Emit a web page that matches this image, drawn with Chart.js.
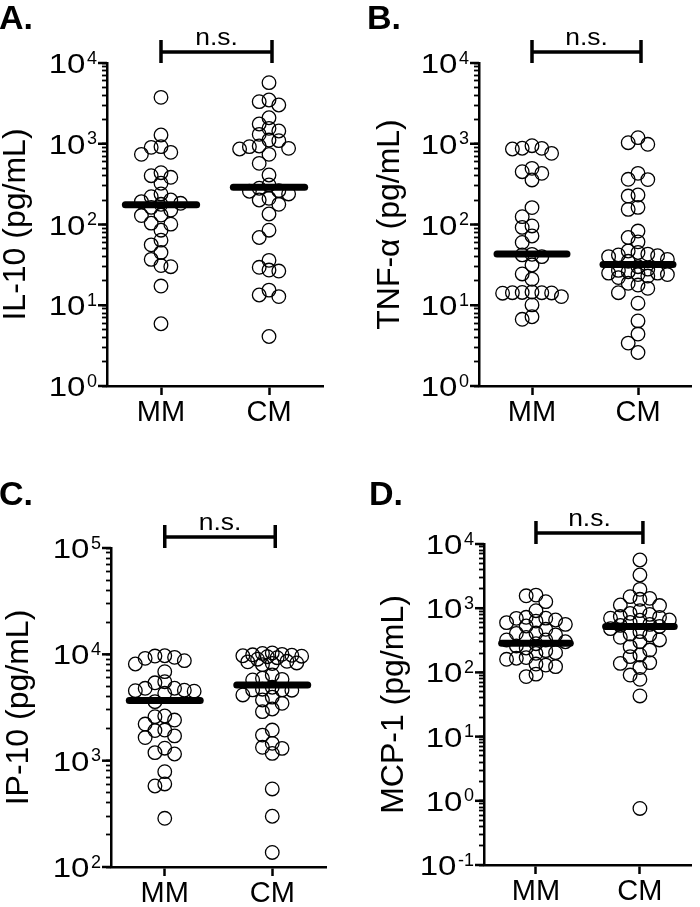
<!DOCTYPE html>
<html><head><meta charset="utf-8">
<script src="https://cdn.jsdelivr.net/npm/chart.js@4.4.1/dist/chart.umd.min.js"></script>
<style>
html,body{margin:0;padding:0;background:#fff;}
#wrap{position:relative;width:700px;height:907px;overflow:hidden;background:#fff;}
.pnl{position:absolute;}
.lbl{position:absolute;font:bold 34px "Liberation Sans",Arial,sans-serif;color:#000;line-height:34px;}
</style></head><body>
<div id="wrap">
 <div class="pnl" style="left:0;top:0"><canvas id="cA" width="350" height="440"></canvas></div>
 <div class="pnl" style="left:350px;top:0"><canvas id="cB" width="350" height="440"></canvas></div>
 <div class="pnl" style="left:0;top:440px"><canvas id="cC" width="350" height="467"></canvas></div>
 <div class="pnl" style="left:350px;top:440px"><canvas id="cD" width="350" height="467"></canvas></div>
 <div class="lbl" style="left:-1px;top:0">A.</div>
 <div class="lbl" style="left:367px;top:0">B.</div>
 <div class="lbl" style="left:-1px;top:476px">C.</div>
 <div class="lbl" style="left:369px;top:476px">D.</div>
</div>
<script>
const FONT = '"Liberation Sans", Arial, sans-serif';
const groups = ['MM', 'CM'];

// Panel A: IL-10
const il10_MM = [3756, 1283, 920, 903, 783, 739, 402, 438, 384, 324, 239, 221, 183, 201, 178, 192, 163, 129, 151, 131, 101, 104, 85, 64, 56, 45, 37, 31, 30, 17.3, 5.9];
const il10_CM = [5710, 3320, 3480, 3020, 2100, 1757, 1552, 1438, 1308, 1112, 1092, 938, 861, 920, 877, 739, 572, 410, 309, 281, 262, 258, 201, 239, 211, 178, 135, 85, 69, 36, 29.5, 26.5, 27.3, 13.4, 12.8, 15.4, 4.1];
const il10_median = [175, 289];
const il10_exps = [0, 1, 2, 3, 4];

// Panel B: TNF-alpha
const tnf_MM = [861, 877, 761, 946, 880, 451, 356, 496, 430, 162, 125, 92, 96, 72, 60, 40, 42.7, 42, 31.5, 24.4, 21, 14.3, 14.4, 14.2, 12.8, 14.3, 14.1, 14.6, 10.1, 6.7, 7.2];
const tnf_CM = [1190, 984, 1031, 430, 363, 360, 225, 232, 154, 163, 83, 69, 61, 47, 45, 43, 42, 41, 40, 37, 35, 30, 28, 27, 26, 25, 25, 24, 24, 23, 22, 18.7, 17.8, 16.2, 14.3, 10.6, 6.4, 4.4, 3.4, 2.6];
const tnf_median = [43, 32];
const tnf_exps = [0, 1, 2, 3, 4];

// Panel C: IP-10
const ip10_MM = [9640, 8110, 9170, 9370, 8720, 9700, 6870, 5530, 5400, 4790, 4550, 4600, 4500, 4300, 4800, 3590, 2630, 2410, 2590, 2210, 1940, 1920, 1710, 1650, 1310, 1155, 1190, 788, 604, 578, 287];
const ip10_CM = [9300, 9600, 9900, 10000, 10300, 9700, 10200, 9500, 9000, 9800, 8300, 8500, 8000, 8600, 8200, 6400, 5960, 5820, 4630, 4150, 4630, 4600, 4700, 4900, 3460, 3060, 3720, 2890, 3960, 1940, 1740, 1455, 1305, 1170, 1335, 542, 300, 137, 5740];
const ip10_median = [3670, 5150];
const ip10_exps = [2, 3, 4, 5];

// Panel D: MCP-1
const mcp1_MM = [1600, 1560, 1264, 915, 655, 695, 700, 630, 721, 596, 528, 469, 406, 383, 410, 320, 320, 258, 166, 198, 203, 160, 218, 170, 123, 135, 130, 86, 94, 280, 300, 240, 350, 560];
const mcp1_CM = [5630, 3290, 1967, 1425, 1512, 1375, 1122, 1100, 916, 832, 800, 720, 700, 741, 655, 650, 560, 540, 520, 431, 383, 396, 352, 301, 320, 223, 252, 187, 176, 138, 142, 119, 78, 91, 43, 0.76, 480, 600];
const mcp1_median = [284, 520];
const mcp1_exps = [-1, 0, 1, 2, 3, 4];

const STEP = 9.8, MAXOFF = 3, HALF = 0.33;
const DLEVELS = [9.6, 8, 6.5, 5, 3.5, 0];

const decor = {
  id: 'decor',
  afterDraw(chart, args, opts) {
    const ctx = chart.ctx, ys = chart.scales.y, xs = chart.scales.x;
    const ax = chart.chartArea.left, top = chart.chartArea.top;
    ctx.save();
    ctx.fillStyle = '#000'; ctx.strokeStyle = '#000';
    ctx.lineWidth = 2.5; ctx.lineCap = 'butt';
    opts.exps.forEach(e => {
      const py = ys.getPixelForValue(Math.pow(10, e));
      ctx.beginPath(); ctx.moveTo(ax - 9, py); ctx.lineTo(ax, py); ctx.stroke();
      const sup = String(e);
      ctx.textAlign = 'right'; ctx.textBaseline = 'alphabetic';
      ctx.font = '18px ' + FONT;
      const supW = ctx.measureText(sup).width;
      const supRight = ax - 10;
      ctx.fillText(sup, supRight, py + 0.5);
      ctx.save();
      ctx.translate(supRight - supW - 1.5, py + 10);
      ctx.scale(1.18, 1);
      ctx.font = '28px ' + FONT;
      ctx.fillText('10', 0, 0);
      ctx.restore();
    });
    // significance bracket
    const x1 = xs.getPixelForValue(1), x2 = xs.getPixelForValue(2) + 3;
    ctx.lineWidth = 3.5;
    ctx.beginPath();
    ctx.moveTo(x1, top - 11); ctx.lineTo(x2, top - 11);
    ctx.moveTo(x1, top - 23); ctx.lineTo(x1, top);
    ctx.moveTo(x2, top - 23); ctx.lineTo(x2, top);
    ctx.stroke();
    ctx.textAlign = 'center';
    ctx.save();
    ctx.translate((x1 + x2) / 2, top - 18);
    ctx.scale(1.15, 1);
    ctx.font = '23px ' + FONT;
    ctx.fillText('n.s.', 0, 0);
    ctx.restore();
    ctx.restore();
  }
};

function candidates() {
  const c = [];
  for (let k = 0; k <= MAXOFF; k++) { if (k === 0) c.push(0); else { c.push(-k * STEP); c.push(k * STEP); } }
  for (let k = 1; k <= MAXOFF * 2; k += 2) { c.push(-k * STEP / 2); c.push(k * STEP / 2); }
  return c;
}

function makePanel(id, cfg) {
  const datasets = [];
  [0, 1].forEach(g => {
    datasets.push({
      label: groups[g] + ' median', showLine: true, order: 0,
      data: [{x: g + 1 - HALF, y: cfg.median[g]}, {x: g + 1 + HALF, y: cfg.median[g]}],
      borderColor: '#000', borderWidth: 7, borderCapStyle: 'round', pointRadius: 0, pointHoverRadius: 0
    });
  });
  [0, 1].forEach(g => {
    datasets.push({
      label: groups[g], order: 1, swarm: true, center: g + 1, values: cfg.series[g],
      data: cfg.series[g].map(v => ({x: g + 1, y: v})),
      pointRadius: 6.8, pointHoverRadius: 6.8, pointBorderWidth: 1.3,
      borderColor: '#000', pointBorderColor: '#000', pointBackgroundColor: 'rgba(0,0,0,0)', backgroundColor: 'rgba(0,0,0,0)'
    });
  });
  const lo = cfg.exps[0], hi = cfg.exps[cfg.exps.length - 1];
  const chart = new Chart(document.getElementById(id), {
    type: 'scatter',
    data: {datasets},
    plugins: [decor],
    options: {
      responsive: false, animation: false, events: [],
      layout: {padding: {left: cfg.pl, top: cfg.top, right: 350 - cfg.right, bottom: 0}},
      plugins: {legend: {display: false}, tooltip: {enabled: false}, decor: {exps: cfg.exps}},
      scales: {
        x: {
          type: 'linear', min: 0.5, max: 2.5,
          afterBuildTicks: s => { s.ticks = [{value: 1}, {value: 2}]; },
          afterFit: s => { s.height = cfg.H - cfg.bottom; },
          ticks: {callback: v => groups[v - 1], color: '#000', padding: 3, font: {family: FONT, size: 29, lineHeight: 1}},
          grid: {drawOnChartArea: false, drawTicks: true, tickLength: 9, tickWidth: 2.5, tickColor: '#000'},
          border: {display: true, color: '#000', width: 2.5}
        },
        y: {
          type: 'logarithmic', min: Math.pow(10, lo), max: Math.pow(10, hi),
          afterBuildTicks: s => {
            const t = [];
            for (let e = lo; e < hi; e++) for (let d = 1; d <= 9; d++) t.push({value: d * Math.pow(10, e)});
            t.push({value: Math.pow(10, hi)});
            s.ticks = t;
          },
          afterFit: s => { s.width = cfg.left - cfg.pl; },
          ticks: {display: false},
          grid: {drawOnChartArea: false, drawTicks: true, tickLength: 5, tickWidth: 1.8, tickColor: '#000'},
          border: {display: true, color: '#000', width: 2.5},
          title: {display: true, text: cfg.title, color: '#000', padding: {top: 0, bottom: 0},
                  font: {family: FONT, size: 32, lineHeight: 1}}
        }
      }
    }
  });
  // beeswarm arrangement of points using the chart's own scales
  const xs = chart.scales.x, ysc = chart.scales.y;
  const u = xs.getPixelForValue(2) - xs.getPixelForValue(1);
  const cand = candidates();
  chart.data.datasets.forEach(ds => {
    if (!ds.swarm) return;
    const pts = ds.values.map(v => ({v, py: ysc.getPixelForValue(v)}));
    pts.sort((a, b) => a.py - b.py);
    const placed = [];
    pts.forEach(p => {
      let done = false;
      for (const dmin of DLEVELS) {
        for (const off of cand) {
          const ok = placed.every(q => {
            const dx = off - q.off, dy = p.py - q.py;
            return dx * dx + dy * dy >= dmin * dmin;
          });
          if (ok) { p.off = off; done = true; break; }
        }
        if (done) break;
      }
      if (!done) p.off = 0;
      placed.push(p);
    });
    ds.data = pts.map(p => ({x: ds.center + p.off / u, y: p.v}));
  });
  chart.update('none');
  return chart;
}

makePanel('cA', {series: [il10_MM, il10_CM], median: il10_median, exps: il10_exps, title: 'IL-10 (pg/mL)',
  pl: 0, left: 107, right: 323, top: 63, bottom: 386, H: 440});
makePanel('cB', {series: [tnf_MM, tnf_CM], median: tnf_median, exps: tnf_exps, title: 'TNF-\u03B1 (pg/mL)',
  pl: 24, left: 129, right: 341, top: 63, bottom: 386, H: 440});
makePanel('cC', {series: [ip10_MM, ip10_CM], median: ip10_median, exps: ip10_exps, title: 'IP-10 (pg/mL)',
  pl: 3, left: 111, right: 326, top: 108, bottom: 427, H: 467});
makePanel('cD', {series: [mcp1_MM, mcp1_CM], median: mcp1_median, exps: mcp1_exps, title: 'MCP-1 (pg/mL)',
  pl: 28, left: 134, right: 344, top: 104, bottom: 425, H: 467});
</script>
</body></html>
